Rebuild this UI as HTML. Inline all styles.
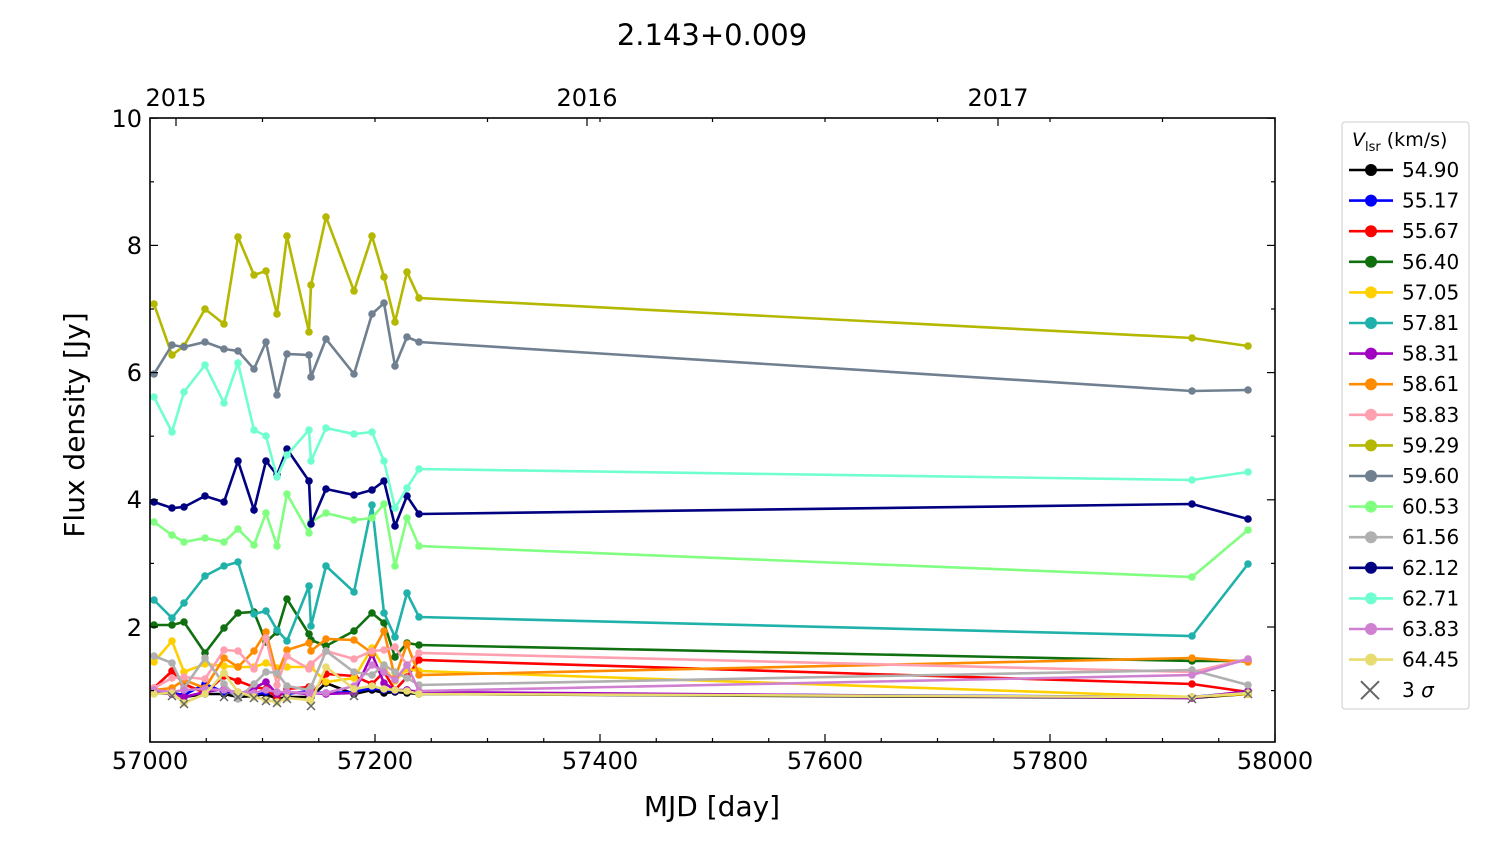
<!DOCTYPE html>
<html><head><meta charset="utf-8"><style>
body{margin:0;background:#fff}
svg{font-family:"DejaVu Sans","Liberation Sans",sans-serif}
</style></head><body>
<svg id="s" width="1500" height="844" xmlns="http://www.w3.org/2000/svg">
<rect width="1500" height="844" fill="#fff"/>
<text x="712" y="45" font-size="29" text-anchor="middle">2.143+0.009</text>
<g id="data"></g>
<rect x="150" y="118" width="1125" height="624" fill="none" stroke="#000" stroke-width="1.6"/>
<g id="ticks" stroke="#000" stroke-width="1.2"></g>
<g font-size="24" text-anchor="middle">
<text x="150" y="769">57000</text><text x="375" y="769">57200</text><text x="600" y="769">57400</text>
<text x="825" y="769">57600</text><text x="1050" y="769">57800</text><text x="1275" y="769">58000</text>
<text x="176" y="106">2015</text><text x="587" y="106">2016</text><text x="998" y="106">2017</text>
</g>
<g font-size="24" text-anchor="end">
<text x="142" y="127">10</text><text x="142" y="254">8</text><text x="142" y="381">6</text><text x="142" y="508">4</text><text x="142" y="636">2</text>
</g>
<text x="712" y="816" font-size="28" text-anchor="middle">MJD [day]</text>
<text transform="translate(84,425) rotate(-90)" font-size="28" text-anchor="middle">Flux density [Jy]</text>
<rect x="1342" y="122" width="127" height="587" rx="3" fill="#fff" stroke="#ccc"/>
<text x="1352" y="146" font-size="19"><tspan font-style="italic">V</tspan><tspan font-size="13" dy="5">lsr</tspan><tspan dy="-5"> (km/s)</tspan></text>
<g id="leg" font-size="20"></g>
</svg>
<script>
const X=[154,172,184,205,224,238,254,266,277,287,309,311,326,354,372,384,395,407,419,1192,1248];
const S=[
["54.90","#000",[693,694,697,694,694,697,696,694,699,697,697,697,683,694,690,693,692,693,694,698,694]],
["55.17","#0000ff",[692,693,695,684,692,693,695,692,694,694,691,692,693,692,688,690,691,690,693,697,692]],
["55.67","#ff0000",[688,671,684,693,676,681,687,689,698,689,687,696,674,676,684,672,690,677,660,684,692]],
["56.40","#107010",[625,625,622,653,628,613,612,642,632,599,634,640,646,631,613,623,657,643,645,661,661]],
["57.05","#ffd000",[662,641,672,664,666,667,667,663,668,667,667,667,682,678,648,668,681,669,671,697,694]],
["57.81","#20b2aa",[600,618,603,576,566,562,614,611,630,641,586,626,566,592,505,613,637,593,617,636,564]],
["58.31","#a000c0",[693,694,697,692,689,695,688,682,694,692,694,693,694,693,654,683,690,690,692,698,691]],
["58.61","#ff8c00",[690,688,680,688,658,667,651,632,675,650,643,651,639,640,653,631,678,644,675,658,662]],
["58.83","#ffa0b0",[688,678,677,679,650,651,669,638,685,656,669,664,651,659,651,650,647,665,653,672,659]],
["59.29","#b5b800",[304,355,346,309,324,237,275,271,314,236,332,285,217,291,236,277,322,272,298,338,346]],
["59.60","#708090",[374,345,347,342,349,351,369,342,395,354,355,377,339,374,314,303,366,337,342,391,390]],
["60.53","#80ff80",[522,535,542,538,542,529,545,513,546,494,533,522,513,520,518,504,566,518,546,577,530]],
["61.56","#b0b0b0",[656,663,688,658,684,699,684,672,673,686,690,687,651,672,675,665,672,678,685,670,685]],
["62.12","#000080",[502,508,507,496,502,461,510,461,475,449,481,524,489,495,490,481,526,496,514,504,519]],
["62.71","#70ffd0",[397,432,392,365,403,363,430,436,477,455,430,461,428,434,432,461,508,488,469,480,472]],
["63.83","#d080d0",[690,692,690,689,690,692,693,690,692,692,693,693,693,686,665,672,680,665,691,675,659]],
["64.45","#e8dc70",[694,693,703,694,673,692,697,700,702,698,700,702,667,689,686,689,690,691,694,697,693]]];
let h="";
S.forEach(s=>{const p=X.map((x,i)=>x+","+s[2][i]).join(" ");
h+=`<polyline points="${p}" fill="none" stroke="${s[1]}" stroke-width="2.6"/>`;
X.forEach((x,i)=>h+=`<circle cx="${x}" cy="${s[2][i]}" r="3.8" fill="${s[1]}"/>`);});
[[172,696],[184,704],[224,697],[238,697],[254,698],[266,701],[277,703],[287,699],[311,706],[354,696],[1192,699],[1248,694]].forEach(([x,y])=>{
h+=`<path d="M${x-4} ${y-4}L${x+4} ${y+4}M${x-4} ${y+4}L${x+4} ${y-4}" stroke="#666" stroke-width="1.5"/>`;});
document.getElementById("data").innerHTML=h;
let t="";
for(let v=57000;v<=58000;v+=50){const x=150+(v-57000)*1.125;const L=(v%200==0)?8:4;
t+=`<line x1="${x}" y1="742" x2="${x}" y2="${742-L}"/>`;}
for(let v=57000;v<=58000;v+=100){const x=150+(v-57000)*1.125;t+=`<line x1="${x}" y1="118" x2="${x}" y2="${122}"/>`;}
[176,587,998].forEach(x=>t+=`<line x1="${x}" y1="118" x2="${x}" y2="126"/>`);
for(let v=1;v<=10;v++){const y=627-(v-2)*63.6;const L=v%2==0?8:4;
t+=`<line x1="150" y1="${y}" x2="${150+L}" y2="${y}"/><line x1="1275" y1="${y}" x2="${1275-L}" y2="${y}"/>`;}
document.getElementById("ticks").innerHTML=t;
let l="";S.forEach((s,i)=>{const y=170+i*30.6;
l+=`<line x1="1349" y1="${y}" x2="1393" y2="${y}" stroke="${s[1]}" stroke-width="2.6"/><circle cx="1371" cy="${y}" r="6" fill="${s[1]}"/><text x="1402" y="${y+7}">${s[0]}</text>`;});
const y=170+17*30.6;
l+=`<path d="M1361 ${y-9}L1379 ${y+9}M1361 ${y+9}L1379 ${y-9}" stroke="#666" stroke-width="2"/><text x="1402" y="${y+7}">3 <tspan font-style="italic">σ</tspan></text>`;
document.getElementById("leg").innerHTML=l;
</script>
</body></html>
